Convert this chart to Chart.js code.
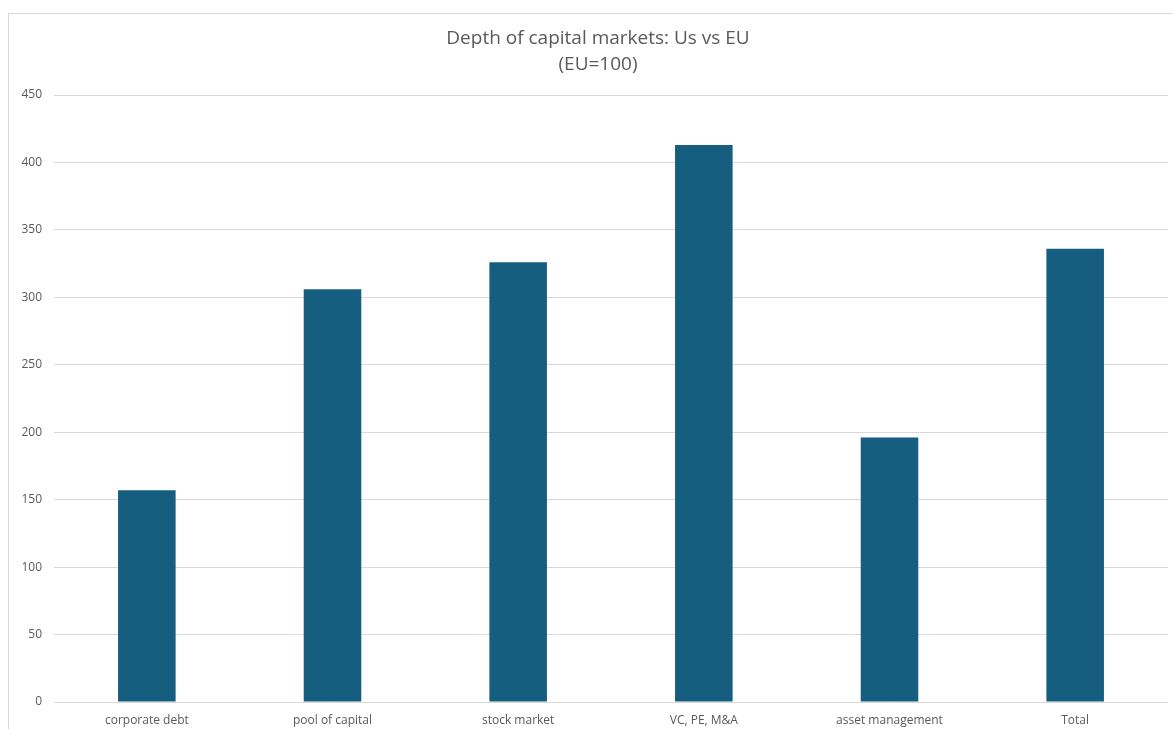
<!DOCTYPE html>
<html>
<head>
<meta charset="utf-8">
<title>Depth of capital markets</title>
<script src="https://cdn.jsdelivr.net/npm/chart.js@4.4.1/dist/chart.umd.min.js"></script>
<style>
  html, body { margin: 0; padding: 0; background: #fff; overflow: hidden; }
  .chart-box {
    position: absolute;
    left: 8px;
    top: 13px;
    width: 1178px;
    height: 725px;
    border: 1px solid #d9d9d9;
    background: #fff;
  }
  canvas { display: block; }
</style>
</head>
<body>
<div class="chart-box"><canvas id="depthChart"></canvas></div>
<script>
/* global Chart */

// US depth of capital markets, indexed to EU = 100
const categories = ['corporate debt', 'pool of capital', 'stock market', 'VC, PE, M&A', 'asset management', 'Total'];
const usIndex = [157, 306, 326, 413, 196, 336];
const yTicks = [0, 50, 100, 150, 200, 250, 300, 350, 400, 450];

const textGrey = '#595959';
const gridGrey = '#d9d9d9';
const barBlue = '#165e7f';

Chart.defaults.font.family = '"Open Sans", Lato, sans-serif';

const ctx = document.getElementById('depthChart').getContext('2d');

new Chart(ctx, {
    type: 'bar',
    data: {
        labels: categories,
        datasets: [{
            label: 'US (EU=100)',
            data: usIndex,
            backgroundColor: barBlue,
            borderWidth: 0,
            barPercentage: 0.31,
            categoryPercentage: 1,
        }],
    },
    options: {
        responsive: true,
        maintainAspectRatio: false,
        animation: false,
        layout: { padding: 0 },
        plugins: {
            legend: { display: false },
            tooltip: { enabled: false },
            title: {
                display: true,
                text: ['Depth of capital markets: Us vs EU', '(EU=100)'],
                color: textGrey,
                font: { size: 19, weight: 'normal', lineHeight: 26 / 19 },
                padding: { top: 12, bottom: 17 },
            },
        },
        scales: {
            x: {
                grid: { display: false, drawTicks: false },
                border: { display: false },
                ticks: {
                    color: textGrey,
                    font: { size: 12 },
                    padding: 11,
                    maxRotation: 0,
                    autoSkip: false,
                },
                afterFit: s => { s.height = 37; },
            },
            y: {
                min: yTicks[0],
                max: yTicks[yTicks.length - 1],
                border: { display: false },
                grid: { color: gridGrey, drawTicks: false },
                ticks: {
                    stepSize: yTicks[1] - yTicks[0],
                    color: textGrey,
                    font: { size: 12 },
                    padding: 12,
                },
                afterFit: s => { s.width = 45; },
            },
            // empty right-hand margin so the plot ends short of the frame
            yRight: {
                position: 'right',
                grid: { display: false, drawTicks: false },
                border: { display: false },
                ticks: { display: false },
                afterFit: s => { s.width = 19; },
            },
        },
    },
});
</script>
</body>
</html>
